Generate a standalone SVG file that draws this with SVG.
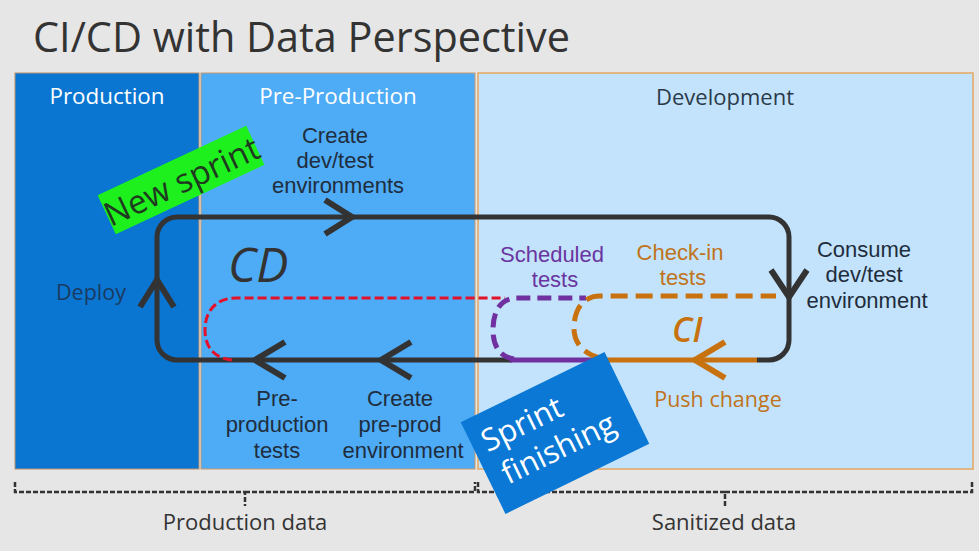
<svg xmlns="http://www.w3.org/2000/svg" width="979" height="551" viewBox="0 0 979 551">
<style>
text{font-family:"Open Sans","Noto Sans","Liberation Sans",sans-serif}
.lbl{font-family:"Liberation Sans",Arial,sans-serif;font-size:22px;fill:#1f2d3d;text-anchor:middle}
.ml{font-family:"Liberation Sans",Arial,sans-serif;font-size:22px;text-anchor:middle}
.hdr{font-size:22.4px;fill:#ffffff;text-anchor:middle}
.loop{fill:none;stroke:#333;stroke-width:5}
.chev{fill:none;stroke:#333;stroke-width:6}
.brace{fill:none;stroke:#333;stroke-width:2.5;stroke-dasharray:5 2}
</style>
<rect width="979" height="551" fill="#e6e6e6"/>
<text x="33" y="52" font-size="41.4" fill="#333">CI/CD with Data Perspective</text>

<g id="production">
<rect x="15" y="73" width="184" height="396" fill="#0a76d2" stroke="#b8906a" stroke-width="1"/>
<text class="hdr" x="107" y="104">Production</text>
<text x="91" y="300" font-size="21.5" fill="#1b3a60" text-anchor="middle">Deploy</text>
</g>
<g id="preproduction">
<rect x="201" y="73" width="274" height="396" fill="#4eabf6" stroke="#c8986a" stroke-width="1"/>
<text class="hdr" x="338" y="104">Pre-Production</text>
</g>
<g id="development">
<rect x="478" y="73" width="495" height="396" fill="#c2e3fb" stroke="#e6a660" stroke-width="1.5"/>
<text x="725" y="105" font-size="22" fill="#2b3a4a" text-anchor="middle">Development</text>
</g>

<g id="connectors">
<path class="loop" d="M757 360 L769 360 A20 20 0 0 0 789 340 L789 237 A20 20 0 0 0 769 217 L177 217 A20 20 0 0 0 157 237 L157 340 A20 20 0 0 0 177 360 L512 360"/>
<path d="M232 360 C212 358 205 345 205 330 C205 312 215 298 236 298 L505 298" fill="none" stroke="#e3112a" stroke-width="3" stroke-dasharray="9 4"/>
<path d="M510 360 L593 360" fill="none" stroke="#7030a0" stroke-width="5"/>
<path d="M514 359 C499 357 493 345 493 330 C493 312 500 299 515 298 L586 298" fill="none" stroke="#7030a0" stroke-width="5" stroke-dasharray="14 7"/>
<path d="M593 360 L757 360" fill="none" stroke="#c8720f" stroke-width="5"/>
<path d="M600 358 C582 353 574 342 574 328 C574 310 583 296 600 296 L776 296" fill="none" stroke="#c8720f" stroke-width="5" stroke-dasharray="17 8"/>
<path class="chev" d="M325 200 L352 217 L325 234"/>
<path class="chev" d="M771 270 L789 297 L807 270"/>
<path class="chev" d="M140 307 L157 280 L174 307"/>
<path class="chev" d="M285 342 L255 360 L285 378"/>
<path class="chev" d="M411 342 L381 360 L411 378"/>
<path d="M725 342 L695 360 L725 378" fill="none" stroke="#c8720f" stroke-width="6"/>
</g>

<g id="labels">
<text class="lbl"><tspan x="335" y="143">Create</tspan><tspan x="335" y="168">dev/test</tspan><tspan x="338" y="193">environments</tspan></text>
<text x="228" y="282" font-size="48" font-style="italic" fill="#333">CD</text>
<text x="672" y="342" font-size="34" font-style="italic" font-weight="600" fill="#c8720f">CI</text>
<text class="ml" fill="#6a35a0"><tspan x="552" y="262">Scheduled</tspan><tspan x="555" y="287">tests</tspan></text>
<text class="ml" fill="#c0731c"><tspan x="680" y="260">Check-in</tspan><tspan x="683" y="285">tests</tspan></text>
<text class="lbl"><tspan x="864" y="257">Consume</tspan><tspan x="864" y="282">dev/test</tspan><tspan x="867" y="308">environment</tspan></text>
<text x="718" y="407" font-size="21.5" fill="#c0731c" text-anchor="middle">Push change</text>
<text class="lbl"><tspan x="277" y="406">Pre-</tspan><tspan x="277" y="432">production</tspan><tspan x="277" y="458">tests</tspan></text>
<text class="lbl"><tspan x="400" y="406">Create</tspan><tspan x="400" y="432">pre-prod</tspan><tspan x="403" y="458">environment</tspan></text>
</g>

<g id="braces">
<path class="brace" d="M15 482 L15 492 L245 492 L245 506 M245 492 L475 492 L475 482"/>
<path class="brace" d="M478 482 L478 492 L725 492 L725 506 M725 492 L972 492 L972 482"/>
<text x="245" y="530" font-size="22" fill="#333" text-anchor="middle">Production data</text>
<text x="724" y="530" font-size="22" fill="#333" text-anchor="middle">Sanitized data</text>
</g>

<g id="new-sprint" transform="translate(181 180) rotate(-25)">
<rect x="-82" y="-21.5" width="164" height="43" fill="#1ef01e"/>
<text x="0" y="13" font-size="33" fill="#1f3a1f" text-anchor="middle">New sprint</text>
</g>
<g id="sprint-finishing" transform="translate(555 433) rotate(-26)">
<rect x="-80" y="-51" width="160" height="102" fill="#0a78d4"/>
<text x="-69" y="-12" font-size="31" fill="#ffffff">Sprint</text>
<text x="-65" y="26" font-size="31" fill="#ffffff">finishing</text>
</g>
</svg>
